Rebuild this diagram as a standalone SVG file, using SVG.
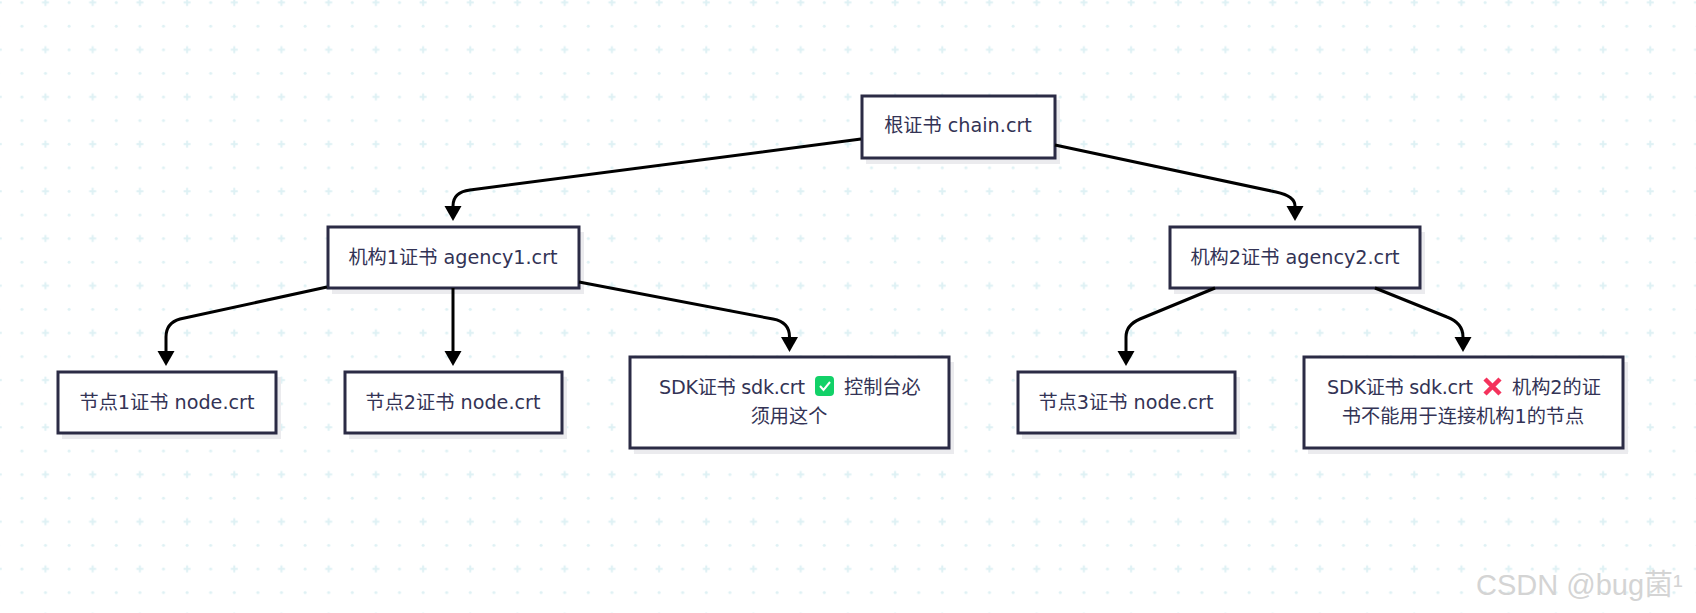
<svg xmlns="http://www.w3.org/2000/svg" width="1696" height="613" viewBox="0 0 1696 613">
<style>
.box{fill:#fff;stroke:#2b2b45;stroke-width:3}
.sh{fill:#ebebee}
.t{font-family:"DejaVu Sans","Noto Sans CJK SC",sans-serif;font-size:19.200px;fill:#333355;text-anchor:middle}
.l{text-anchor:start}
.c{fill:none;stroke:#000;stroke-width:3}
.g{fill:#def1f4}
</style>
<defs>
<pattern id="grid" width="47.2" height="47.2" patternUnits="userSpaceOnUse" x="33.500" y="-9.500">
<rect class="g" x="8.500" y="11" width="7" height="2"/><rect class="g" x="11" y="8.500" width="2" height="7"/>
<circle class="g" cx="35.600" cy="12" r="1.500"/><circle class="g" cx="12" cy="35.600" r="1.500"/><circle class="g" cx="35.600" cy="35.600" r="1.500"/>
</pattern>
</defs>
<rect width="1696" height="613" fill="#fff"/>
<rect width="1696" height="613" fill="url(#grid)"/>
<g id="root"><rect class="sh" x="866" y="100" width="194" height="64"/><rect class="box" x="862" y="96" width="193" height="62"/><text class="t" x="958" y="132">根证书 chain.crt</text></g>
<g id="agency1"><rect class="sh" x="332" y="232" width="252" height="62"/><rect class="box" x="328" y="227" width="251" height="61"/><text class="t" x="453" y="264">机构1证书 agency1.crt</text></g>
<g id="agency2"><rect class="sh" x="1174" y="232" width="251" height="62"/><rect class="box" x="1170" y="227" width="250" height="61"/><text class="t" x="1295" y="264">机构2证书 agency2.crt</text></g>
<g id="node1"><rect class="sh" x="62" y="377" width="219" height="62"/><rect class="box" x="58" y="372" width="218" height="61"/><text class="t" x="167" y="409">节点1证书 node.crt</text></g>
<g id="node2"><rect class="sh" x="349" y="377" width="218" height="62"/><rect class="box" x="345" y="372" width="217" height="61"/><text class="t" x="453" y="409">节点2证书 node.crt</text></g>
<g id="sdk1"><rect class="sh" x="634" y="362" width="320" height="92"/><rect class="box" x="630" y="357" width="319" height="91"/>
<text class="t l" x="659" y="394" textLength="146">SDK证书 sdk.crt</text>
<rect x="815" y="376" width="19" height="20" rx="4" fill="#12d168"/><path d="M820,386L823.500,390L830,382" fill="none" stroke="#fff" stroke-width="2"/>
<text class="t l" x="844" y="394">控制台必</text>
<text class="t" x="789" y="423">须用这个</text></g>
<g id="node3"><rect class="sh" x="1022" y="377" width="218" height="62"/><rect class="box" x="1018" y="372" width="217" height="61"/><text class="t" x="1126" y="409">节点3证书 node.crt</text></g>
<g id="sdk2"><rect class="sh" x="1308" y="362" width="320" height="92"/><rect class="box" x="1304" y="357" width="319" height="91"/>
<text class="t l" x="1327" y="394" textLength="146">SDK证书 sdk.crt</text>
<path d="M1485,379L1500,394M1500,379L1485,394" fill="none" stroke="#f4325c" stroke-width="4.500"/>
<text class="t l" x="1512" y="394">机构2的证</text>
<text class="t" x="1463" y="423">书不能用于连接机构1的节点</text></g>
<g id="connectors">
<path class="c" d="M861,139L470,190Q453,192 453,206"/>
<path class="c" d="M1055,145L1276,192Q1295,196 1295,206"/>
<path class="c" d="M327,287L180,319Q166,323 166,337V351"/>
<path class="c" d="M453,288V351"/>
<path class="c" d="M579,282L773,319Q789.500,322 789.500,337"/>
<path class="c" d="M1215,288L1140,319Q1126,325 1126,337V351"/>
<path class="c" d="M1375,288L1447,317Q1463,323 1463,337"/>
<path d="M444.500,206H461.500L453,221Z"/><path d="M1286.500,206H1303.500L1295,221Z"/><path d="M157.500,351H174.500L166,366Z"/><path d="M444.500,351H461.500L453,366Z"/><path d="M781,337H798L789.500,352Z"/><path d="M1117.500,351H1134.500L1126,366Z"/><path d="M1454.500,337H1471.500L1463,352Z"/>
</g>
<text x="1476" y="595" font-family="'Liberation Sans','Noto Sans CJK SC',sans-serif" font-size="29" fill="#d4d4d4">CSDN @bug菌¹</text>
</svg>
